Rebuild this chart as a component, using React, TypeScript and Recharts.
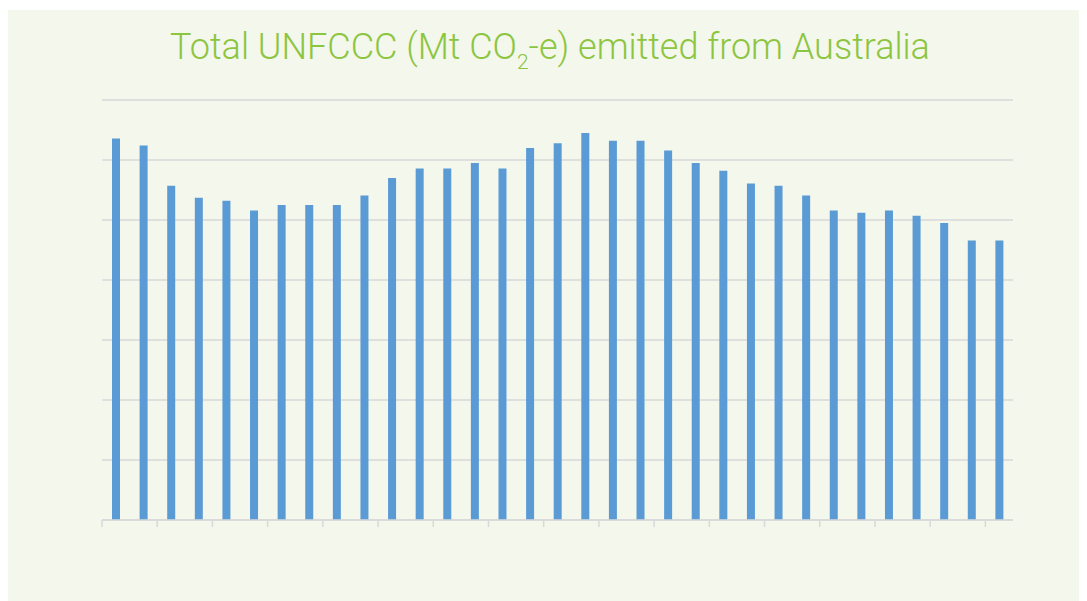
import React from "react";
import { BarChart, Bar, XAxis, YAxis, CartesianGrid } from "recharts";

// Reporting years, 1990–2022
const years: string[] = [
  "1990", "1991", "1992", "1993", "1994", "1995", "1996", "1997", "1998", "1999",
  "2000", "2001", "2002", "2003", "2004", "2005", "2006", "2007", "2008", "2009",
  "2010", "2011", "2012", "2013", "2014", "2015", "2016", "2017", "2018", "2019",
  "2020", "2021", "2022",
];

// Total UNFCCC emissions, Mt CO2-e
const emissions: number[] = [
  636, 624, 557, 537, 532, 516, 525, 525, 525, 541,
  570, 586, 586, 595, 586, 620, 628, 645, 632, 632,
  616, 595, 582, 561, 557, 541, 516, 512, 516, 507,
  495, 466, 466,
];

const yTicks: number[] = [0, 100, 200, 300, 400, 500, 600, 700];
// Category boundary marks every second year
const boundaryTicks: number[] = [0, 2, 4, 6, 8, 10, 12, 14, 16, 18, 20, 22, 24, 26, 28, 30, 32];

// slot = centre of each year's band on a 0..N index scale
const data = years.map((year, i) => ({ year, slot: i + 0.5, value: emissions[i] }));

const GRID = "#d9d9d9";
const BAR = "#5b9bd5";
const TITLE = "#8cc540";
const PANEL = "#f4f7eb";

export default function App() {
  return (
    <div
      style={{
        position: "relative",
        width: 1087,
        height: 601,
        margin: "-8px 0 0 -8px",
        background: "#ffffff",
        overflow: "hidden",
      }}
    >
      <div
        style={{
          position: "absolute",
          left: 6,
          top: 10,
          width: 1081,
          height: 591,
          background: PANEL,
        }}
      />
      <div
        style={{
          position: "absolute",
          left: 0,
          top: 26,
          width: 1100,
          textAlign: "center",
          fontFamily: "Roboto, 'Liberation Sans', sans-serif",
          fontWeight: 300,
          fontSize: 36,
          color: TITLE,
          whiteSpace: "nowrap",
          lineHeight: "42px",
        }}
      >
        Total UNFCCC (Mt CO
        <span style={{ fontSize: 21, position: "relative", top: 10 }}>2</span>
        -e) emitted from Australia
      </div>
      <div style={{ position: "absolute", left: 0, top: 0 }}>
        <BarChart
          width={1087}
          height={601}
          data={data}
          margin={{ top: 100, right: 74, bottom: 71, left: 102 }}
          barCategoryGap={0}
        >
          <CartesianGrid vertical={false} stroke={GRID} strokeWidth={1.3} />
          <YAxis hide domain={[0, 700]} ticks={yTicks} />
          <XAxis
            xAxisId="marks"
            dataKey="slot"
            type="number"
            domain={[0, years.length]}
            allowDataOverflow
            ticks={boundaryTicks}
            interval={0}
            tickFormatter={() => ""}
            tickSize={7}
            height={10}
            axisLine={{ stroke: GRID, strokeWidth: 1.5 }}
            tickLine={{ stroke: GRID, strokeWidth: 1.5 }}
          />
          <XAxis xAxisId="cat" dataKey="year" hide height={0} />
          <Bar
            xAxisId="cat"
            dataKey="value"
            fill={BAR}
            barSize={8}
            isAnimationActive={false}
          />
        </BarChart>
      </div>
    </div>
  );
}
